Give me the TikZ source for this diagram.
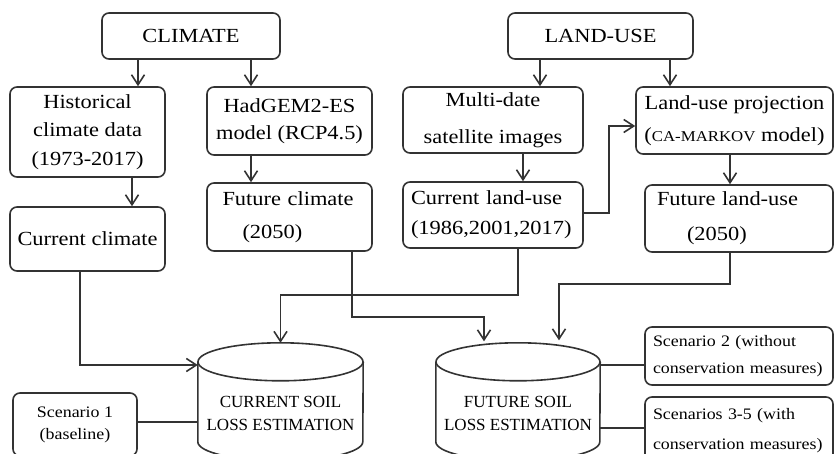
\documentclass[tikz,border=0pt]{standalone}
\usepackage{fontspec}
\setmainfont[FakeStretch=1.12]{Liberation Serif}
\newfontfamily\cylfont{Liberation Serif}
\usetikzlibrary{arrows.meta}

% cylinder outline around a (borderless) node: #1 node name, #2 half width in pt
\newcommand\drawcyl[2]{%
  \draw[ln] ([yshift=-19pt]#1.north) ellipse [x radius=#2pt, y radius=19pt];
  \draw[ln] ([yshift=-19pt]#1.north west) -- ([yshift=-99pt]#1.north west)
    arc[start angle=180, end angle=360, x radius=#2pt, y radius=19pt]
    -- ([yshift=-19pt]#1.north east);
}

\begin{document}
\begin{tikzpicture}[x=1pt,y=-1pt,
  ln/.style={draw=black!80,line width=1.6pt},
  arr/.style={ln,-{Straight Barb[length=10pt,width=13pt]}},
  box/.style={ln,rounded corners=7pt,inner sep=0pt,align=center,
    font=\fontsize{20}{28}\selectfont},
  sbox/.style={box,align=left,text width=172pt,font=\fontsize{16}{24}\selectfont},
  cyl/.style={inner sep=0pt,align=center,font=\cylfont\fontsize{17}{23}\selectfont}]

\clip (0,0) rectangle (835,454);

% top level sources
\node[box,minimum width=178pt,minimum height=46pt] (climate) at (191,36) {CLIMATE};
\node[box,minimum width=185pt,minimum height=46pt] (landuse) at (600.5,36) {LAND-USE};

% climate branch
\node[box,minimum width=155pt,minimum height=90pt,font=\fontsize{20}{28.5}\selectfont]
  (hist) at (87.5,132) {Historical\\climate data\\(1973-2017)};
\node[box,minimum width=165pt,minimum height=68pt,font=\fontsize{20}{27}\selectfont]
  (had) at (289.5,121) {HadGEM2-ES\\model (RCP4.5)};
\node[box,minimum width=165pt,minimum height=68pt,align=left,text width=134pt,
  font=\fontsize{20}{33}\selectfont]
  (futc) at (289.5,217) {Future climate\\\hspace*{20pt}(2050)};
\node[box,minimum width=155pt,minimum height=64pt] (curc) at (87.5,239) {Current climate};

% land-use branch
\node[box,minimum width=180pt,minimum height=66pt,font=\fontsize{20}{37}\selectfont]
  (multi) at (493,120) {Multi-date\\satellite images};
\node[box,minimum width=180pt,minimum height=66pt,align=left,text width=164pt,
  font=\fontsize{20}{30}\selectfont]
  (curlu) at (493,215) {Current land-use\\(1986,2001,2017)};
\node[box,minimum width=197pt,minimum height=67pt,font=\fontsize{20}{32}\selectfont]
  (proj) at (734.5,120.5) {Land-use projection\\({\fontsize{15}{15}\selectfont CA-MARKOV} model)};
\node[box,minimum width=188pt,minimum height=67pt,align=left,text width=164pt,
  font=\fontsize{20}{35}\selectfont]
  (futlu) at (739,218.5) {Future land-use\\\hspace*{30pt}(2050)};

% soil loss stores
\node[cyl,minimum width=165pt,minimum height=141pt] (curr) at (280.5,413.5)
  {CURRENT SOIL\\LOSS ESTIMATION};
\node[cyl,minimum width=164pt,minimum height=141pt] (fut) at (518,413.5)
  {FUTURE SOIL\\LOSS ESTIMATION};
\drawcyl{curr}{82.5}
\drawcyl{fut}{82}

% scenarios
\node[box,minimum width=124pt,minimum height=63pt,font=\fontsize{16}{22}\selectfont]
  (sc1) at (75,424.5) {Scenario 1\\(baseline)};
\node[sbox,minimum width=188pt,minimum height=58pt,font=\fontsize{16}{27}\selectfont]
  (sc2) at (739,356) {Scenario 2 (without\\conservation measures)};
\node[sbox,minimum width=188pt,minimum height=68pt,font=\fontsize{16}{30}\selectfont]
  (sc3) at (739,431) {Scenarios 3-5 (with\\conservation measures)};

% vertical arrow positions
\coordinate (vA) at (138,0);
\coordinate (vB) at (251,0);
\coordinate (vC) at (132,0);
\coordinate (vD) at (540,0);
\coordinate (vE) at (670,0);
\coordinate (vF) at (523,0);
\coordinate (vG) at (730,0);

\draw[arr] (climate.south -| vA) -- (hist.north -| vA);
\draw[arr] (climate.south -| vB) -- (had.north -| vB);
\draw[arr] (had.south -| vB) -- (futc.north -| vB);
\draw[arr] (hist.south -| vC) -- (curc.north -| vC);
\draw[arr] (landuse.south -| vD) -- (multi.north -| vD);
\draw[arr] (landuse.south -| vE) -- (proj.north -| vE);
\draw[arr] (multi.south -| vF) -- (curlu.north -| vF);
\draw[arr] (proj.south -| vG) -- (futlu.north -| vG);

% elbow connectors
\coordinate (jA) at (609,213);
\coordinate (jB) at (609,126);
\draw[arr] (curlu.east |- jA) -- (jA) -- (jB) -- (proj.west |- jB);

\coordinate (jC) at (80,365);
\draw[arr] (curc.south -| jC) -- (jC) -- (curr.west |- jC);

\coordinate (jD) at (518,295);
\coordinate (jE) at (280.5,295);
\draw[arr] (curlu.south -| jD) -- (jD) -- (jE) -- (curr.north);

\coordinate (jF) at (352,317);
\coordinate (jG) at (484,317);
\draw[arr,shorten >=1.5pt] (futc.south -| jF) -- (jF) -- (jG) -- (fut.north -| jG);

\coordinate (jH) at (730,284);
\coordinate (jI) at (559,284);
\draw[arr,shorten >=2.5pt] (futlu.south -| jH) -- (jH) -- (jI) -- (fut.north -| jI);

% scenario links
\coordinate (jJ) at (0,422);
\coordinate (jK) at (0,365);
\coordinate (jL) at (0,428);
\draw[ln] (sc1.east |- jJ) -- (curr.west |- jJ);
\draw[ln] (fut.east |- jK) -- (sc2.west |- jK);
\draw[ln] (fut.east |- jL) -- (sc3.west |- jL);
\end{tikzpicture}
\end{document}
